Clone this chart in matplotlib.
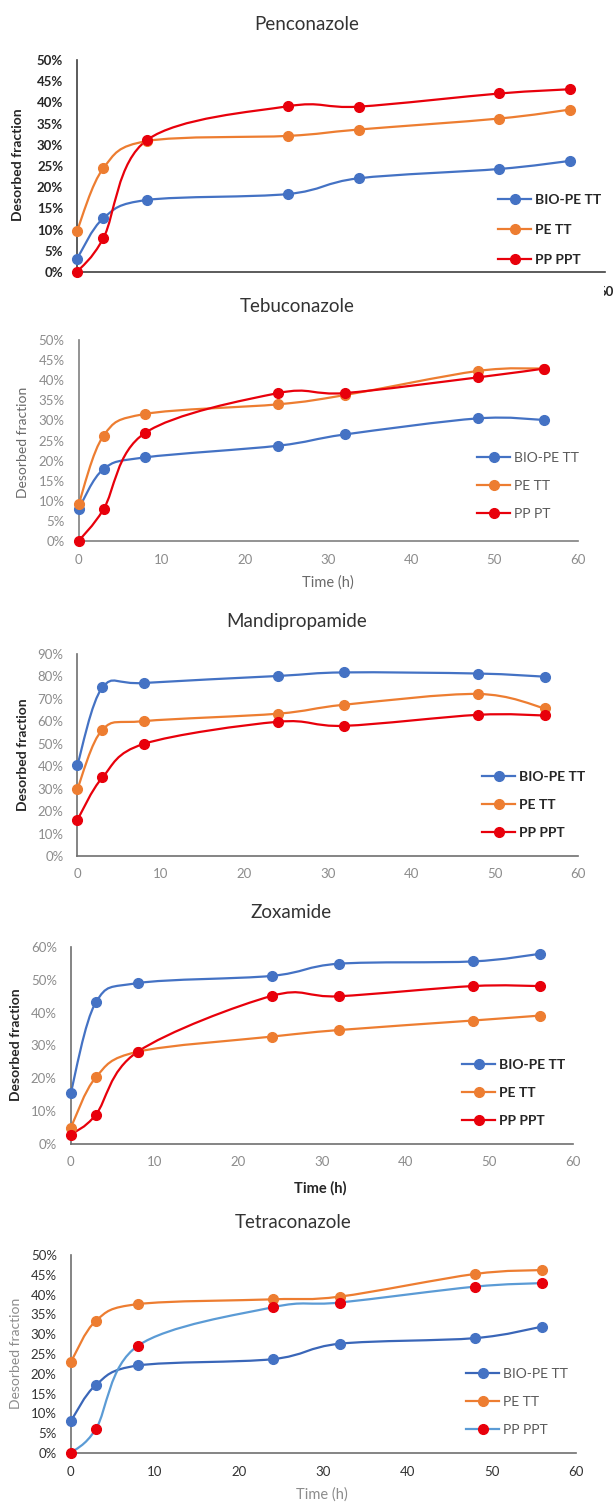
import numpy as np
import matplotlib
matplotlib.use("Agg")
import matplotlib.pyplot as plt
from matplotlib.path import Path
from matplotlib.patches import PathPatch, Rectangle
from matplotlib.lines import Line2D
from matplotlib.ticker import PercentFormatter, MultipleLocator

plt.rcParams['font.family'] = ['Lato', 'DejaVu Sans']

W, H = 616, 1504

time_h = [0, 3, 8, 24, 32, 48, 56]
series_names = ["BIO-PE TT", "PE TT", "PP PPT"]

# desorbed fractions
pen_bio = [0.031, 0.127, 0.170, 0.184, 0.221, 0.243, 0.262]
pen_pe = [0.097, 0.245, 0.309, 0.321, 0.336, 0.362, 0.383]
pen_pp = [0.000, 0.080, 0.312, 0.391, 0.390, 0.421, 0.431]

teb_bio = [0.080, 0.179, 0.208, 0.237, 0.265, 0.305, 0.301]
teb_pe = [0.091, 0.262, 0.316, 0.340, 0.363, 0.423, 0.429]
teb_pp = [0.000, 0.079, 0.269, 0.368, 0.368, 0.407, 0.429]

man_bio = [0.406, 0.751, 0.771, 0.802, 0.818, 0.813, 0.799]
man_pe = [0.299, 0.563, 0.601, 0.634, 0.674, 0.722, 0.658]
man_pp = [0.161, 0.350, 0.500, 0.598, 0.580, 0.629, 0.626]

zox_bio = [0.155, 0.431, 0.490, 0.512, 0.549, 0.556, 0.579]
zox_pe = [0.049, 0.203, 0.281, 0.327, 0.347, 0.376, 0.391]
zox_pp = [0.028, 0.089, 0.281, 0.451, 0.450, 0.481, 0.481]

tet_bio = [0.080, 0.172, 0.221, 0.237, 0.276, 0.290, 0.319]
tet_pe = [0.229, 0.334, 0.376, 0.388, 0.395, 0.452, 0.462]
tet_pp = [0.000, 0.061, 0.271, 0.368, 0.380, 0.420, 0.429]

titles = ["Penconazole", "Tebuconazole", "Mandipropamide", "Zoxamide", "Tetraconazole"]
legend_names = [series_names, ["BIO-PE TT", "PE TT", "PP PT"], series_names,
                ["BIO-PE TT", "PE TT", "PP PPT"], series_names]

BLUE = "#4472C4"
ORANGE = "#ED7D31"
RED = "#E8000B"
LBLUE = "#5B9BD5"
GRAY = "#8C8C8C"
DARK = "#262626"


def smooth_path(ax, x, y, color, lw=1.6):
    # Excel style smoothed line: cubic bezier segments through every point
    pts = np.column_stack([x, y]).astype(float)
    n = len(pts)
    verts = [pts[0]]
    codes = [Path.MOVETO]
    for i in range(n - 1):
        p0 = pts[i - 1] if i > 0 else pts[i]
        p1 = pts[i]
        p2 = pts[i + 1]
        p3 = pts[i + 2] if i + 2 < n else pts[i + 1]
        verts += [p1 + (p2 - p0) / 6, p2 - (p3 - p1) / 6, p2]
        codes += [Path.CURVE4] * 3
    ax.add_patch(PathPatch(Path(verts, codes), fill=False, edgecolor=color,
                           lw=lw, capstyle='round', clip_on=False, zorder=2))


def px_axes(x0, x60, ytop, ybot):
    return fig.add_axes([x0 / W, 1 - ybot / H, (x60 - x0) / W, (ybot - ytop) / H])


fig = plt.figure(figsize=(W / 100, H / 100), dpi=100)

panels = [
    dict(box=(77, 605, 60, 272), ymax=0.5, step=0.05,
         data=(pen_bio, pen_pe, pen_pp), title=(307, 25), ylab=(18, 165),
         xlab=None, leg=(498, 230), tick_c=DARK, tick_w='bold', lab_c=DARK,
         lab_w='bold', leg_c=DARK, leg_w='bold', spine="#404040", xticks=False,
         pp_line=RED),
    dict(box=(78.6, 577.6, 340, 541), ymax=0.5, step=0.05,
         data=(teb_bio, teb_pe, teb_pp), title=(297, 307), ylab=(23, 442),
         xlab=(328, 583), leg=(477, 486), tick_c=GRAY, tick_w='normal', lab_c="#6a6a6a",
         lab_w='normal', leg_c="#595959", leg_w='normal', spine="#808080", xticks=True,
         pp_line=RED),
    dict(box=(77.4, 578, 654, 856), ymax=0.9, step=0.1,
         data=(man_bio, man_pe, man_pp), title=(297, 621), ylab=(23, 755),
         xlab=None, leg=(482, 805), tick_c=GRAY, tick_w='normal', lab_c=DARK,
         lab_w='bold', leg_c=DARK, leg_w='bold', spine="#6f6f6f", xticks=True,
         pp_line=RED),
    dict(box=(70.7, 573, 947, 1144), ymax=0.6, step=0.1,
         data=(zox_bio, zox_pe, zox_pp), title=(291, 912), ylab=(16.5, 1045),
         xlab=(320, 1188), leg=(462, 1093), tick_c=GRAY, tick_w='normal', lab_c=DARK,
         lab_w='bold', leg_c=DARK, leg_w='bold', spine="#6f6f6f", xticks=True,
         pp_line=RED),
    dict(box=(70.7, 575.6, 1255, 1453), ymax=0.5, step=0.05,
         data=(tet_bio, tet_pe, tet_pp), title=(293, 1222), ylab=(16.5, 1353),
         xlab=(322, 1495), leg=(466, 1402), tick_c="#333333", tick_w='normal',
         lab_c=GRAY, lab_w='normal', leg_c="#595959", leg_w='normal',
         spine="#6f6f6f", xticks=True, pp_line=LBLUE),
]

for k, p in enumerate(panels):
    ax = px_axes(*p['box'])
    ax.set_xlim(0, 60)
    ax.set_ylim(0, p['ymax'])
    for s in ['top', 'right']:
        ax.spines[s].set_visible(False)
    for s in ['left', 'bottom']:
        ax.spines[s].set_color(p['spine'])
        ax.spines[s].set_linewidth(1.2)
    ax.yaxis.set_major_locator(MultipleLocator(p['step']))
    ax.yaxis.set_major_formatter(PercentFormatter(1.0, decimals=0))
    ax.xaxis.set_major_locator(MultipleLocator(10))
    ax.tick_params(axis='y', length=0, pad=10, labelsize=9.5, labelcolor=p['tick_c'])
    ax.tick_params(axis='x', length=0, pad=9, labelsize=9.5, labelcolor=p['tick_c'])
    for lb in ax.get_yticklabels() + ax.get_xticklabels():
        lb.set_fontweight(p['tick_w'])
    if not p['xticks']:
        ax.set_xticklabels([])

    bio, pe, pp = p['data']
    line_cols = [BLUE, ORANGE, p['pp_line']]
    mark_cols = [BLUE, ORANGE, RED]
    if k == 4:
        line_cols[0] = "#3A66B8"
    for vals, lc, mc in zip((bio, pe, pp), line_cols, mark_cols):
        smooth_path(ax, time_h, vals, lc)
        ax.plot(time_h, vals, 'o', ms=7, color=mc, mec=mc, ls='none',
                clip_on=False, zorder=3)

    handles = [Line2D([], [], color=lc, lw=1.6, marker='o', ms=7, mfc=mc, mec=mc)
               for lc, mc in zip(line_cols, mark_cols)]
    leg = ax.legend(handles, legend_names[k], loc='center left',
                    bbox_to_anchor=(p['leg'][0] / W, 1 - p['leg'][1] / H),
                    bbox_transform=fig.transFigure, frameon=False, borderpad=0,
                    borderaxespad=0, handlelength=2.4, handletextpad=0.25,
                    labelspacing=1.15 if k else 1.3, prop=dict(size=10, weight=p['leg_w']))
    for t in leg.get_texts():
        t.set_color(p['leg_c'])

    fig.text(p['title'][0] / W, 1 - p['title'][1] / H, titles[k], ha='center',
             va='center', fontsize=13.5, color="#333333")
    fig.text(p['ylab'][0] / W, 1 - p['ylab'][1] / H, "Desorbed fraction",
             rotation=90, ha='center', va='center', fontsize=10,
             color=p['lab_c'], fontweight=p['lab_w'])
    if p['xlab'] is not None:
        fig.text(p['xlab'][0] / W, 1 - p['xlab'][1] / H, "Time (h)", ha='center',
                 va='center', fontsize=10.5, color=p['lab_c'], fontweight=p['lab_w'])

# the top panel's axis labels are hidden under the second panel, only a sliver of "60" remains
fig.text(606 / W, 1 - 292 / H, "60", ha='center', va='center', fontsize=9.5,
         color=DARK, fontweight='bold', zorder=2)
fig.add_artist(Rectangle((0, 1 - 297 / H), 604 / W, 14 / H, transform=fig.transFigure,
                         facecolor='white', edgecolor='none', zorder=5))

fig.savefig("out.png", dpi=100)
